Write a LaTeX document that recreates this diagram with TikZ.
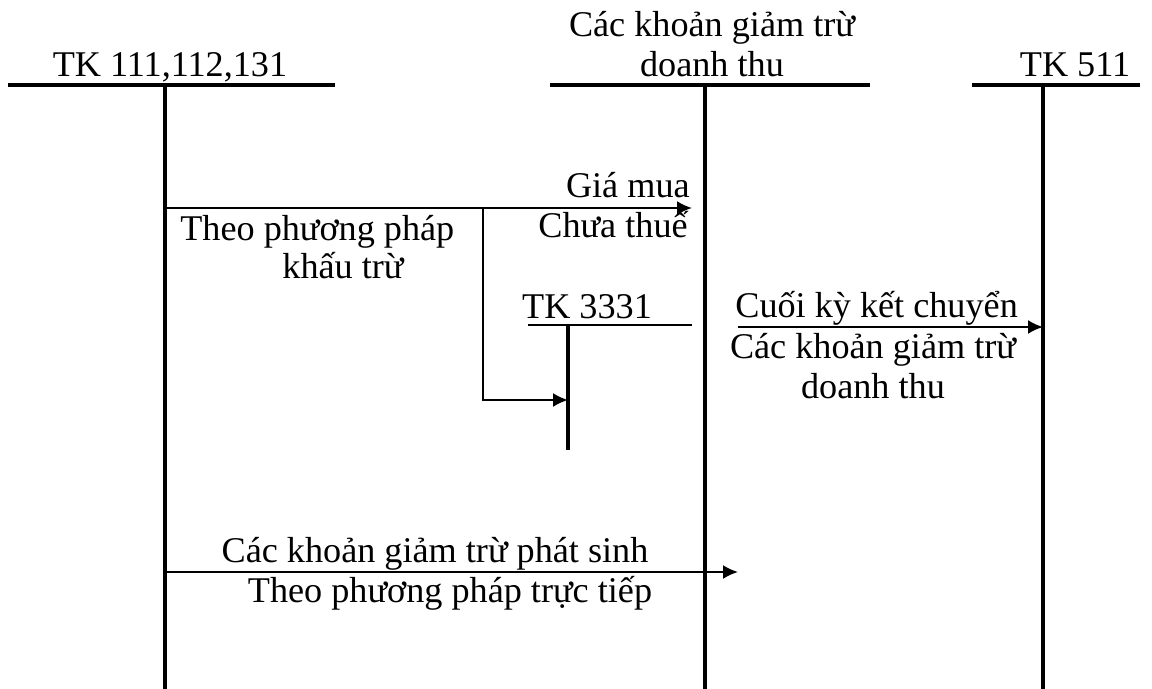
\documentclass[tikz,border=0pt]{standalone}
\usepackage{fontspec}
\setmainfont{Liberation Serif}
\usetikzlibrary{arrows.meta, positioning}
\tikzset{
  acc-bar/.style={line width=2.0pt},
  thin-bar/.style={line width=1.1pt},
  flow-edge/.style={-{Latex[length=3.0mm, width=2.8mm]}, line width=1.2pt},
  acc-label/.style={anchor=base, inner sep=0pt, font=\fontsize{20.6}{24}\selectfont}
}
\begin{document}
\begin{tikzpicture}[x=0.02cm, y=-0.02cm]
  \useasboundingbox (0,0) rectangle (1152,689);

  % Tài khoản chữ T
  \node[acc-label] (tk111-name) at (170,77) {TK 111,112,131};
  \coordinate (tk111-l) at (8,85);
  \coordinate (tk111-r) at (335,85);
  \coordinate (tk111-top) at (165,85);
  \coordinate (tk111-bot) at (165,689);
  \draw[acc-bar] (tk111-l) -- (tk111-r);
  \draw[acc-bar] (tk111-top) -- (tk111-bot);

  \node[acc-label] (gt-name1) at (712,37) {Các khoản giảm trừ};
  \node[acc-label] (gt-name2) at (712,77) {doanh thu};
  \coordinate (gt-l) at (550,85);
  \coordinate (gt-r) at (870,85);
  \coordinate (gt-top) at (705,85);
  \coordinate (gt-bot) at (705,689);
  \draw[acc-bar] (gt-l) -- (gt-r);
  \draw[acc-bar] (gt-top) -- (gt-bot);

  \node[acc-label] (tk511-name) at (1075,77) {TK 511};
  \coordinate (tk511-l) at (972,85);
  \coordinate (tk511-r) at (1140,85);
  \coordinate (tk511-top) at (1043,85);
  \coordinate (tk511-bot) at (1043,689);
  \draw[acc-bar] (tk511-l) -- (tk511-r);
  \draw[acc-bar] (tk511-top) -- (tk511-bot);

  \node[acc-label] (tk3331-name) at (587,318) {TK 3331};
  \coordinate (tk3331-l) at (528,325);
  \coordinate (tk3331-r) at (692,325);
  \coordinate (tk3331-top) at (568,325);
  \coordinate (tk3331-bot) at (568,450);
  \draw[thin-bar] (tk3331-l) -- (tk3331-r);
  \draw[acc-bar] (tk3331-top) -- (tk3331-bot);

  % Phương pháp khấu trừ
  \coordinate (buy-start) at (165,208);
  \coordinate (buy-end) at (692,208);
  \coordinate (tax-fork) at (483,208);
  \coordinate (tax-turn) at (483,400);
  \coordinate (tax-end) at (568,400);
  \draw[flow-edge] (buy-start) -- (buy-end);
  \draw[flow-edge] (tax-fork) -- (tax-turn) -- (tax-end);
  \node[acc-label, anchor=base east] (buy-top) at (690,197) {Giá mua};
  \node[acc-label, anchor=base east] (buy-bot) at (688,237) {Chưa thuế};
  \node[acc-label, anchor=base west] (ded-1) at (180,240) {Theo phương pháp};
  \node[acc-label] (ded-2) at (343,278) {khấu trừ};

  % Kết chuyển cuối kỳ
  \coordinate (close-start) at (738,327);
  \coordinate (close-end) at (1043,327);
  \draw[flow-edge] (close-start) -- (close-end);
  \node[acc-label, anchor=base west] (close-top) at (735,317) {Cuối kỳ kết chuyển};
  \node[acc-label] (close-bot1) at (873,358) {Các khoản giảm trừ};
  \node[acc-label] (close-bot2) at (873,398) {doanh thu};

  % Phương pháp trực tiếp
  \coordinate (dir-start) at (165,572);
  \coordinate (dir-end) at (738,572);
  \draw[flow-edge] (dir-start) -- (dir-end);
  \node[acc-label] (dir-top) at (435,562) {Các khoản giảm trừ phát sinh};
  \node[acc-label] (dir-bot) at (450,602) {Theo phương pháp trực tiếp};
\end{tikzpicture}
\end{document}
